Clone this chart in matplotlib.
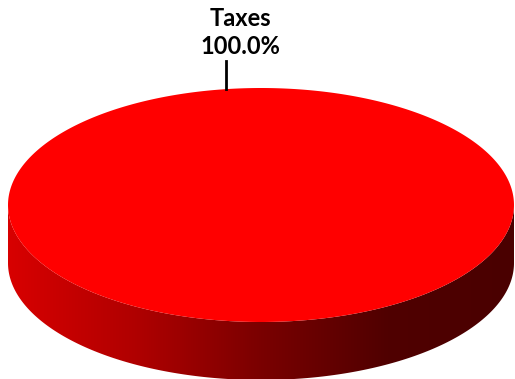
import numpy as np
import matplotlib
matplotlib.use("Agg")
from matplotlib import pyplot as plt
from matplotlib.patches import Polygon
from matplotlib.colors import LinearSegmentedColormap

labels = ["Taxes"]
values = [100.0]
colors = ["#ff0000"]

# ellipse geometry in pixel space
cx, cy = 261, 205
a, b = 253, 117
depth = 58
startangle = -82

fig = plt.figure(figsize=(5.15, 3.79), dpi=100)
ax = fig.add_axes([0, 0, 1, 1])
ax.set_xlim(0, 515)
ax.set_ylim(379, 0)
ax.axis("off")

total = sum(values)
ang0 = startangle
for lab, v, col in zip(labels, values, colors):
    span = 360.0 * v / total
    ang1 = ang0 + span
    # side wall (front half only)
    t = np.radians(np.linspace(180, 360, 200))
    xs = cx + a * np.cos(t)
    ys = cy - b * np.sin(t)
    side = np.concatenate([np.c_[xs, ys], np.c_[xs[::-1], ys[::-1] + depth]])
    poly = Polygon(side, closed=True, facecolor="none", edgecolor="none")
    ax.add_patch(poly)
    cmap = LinearSegmentedColormap.from_list("side", ["#d80000", "#b00000", "#7a0000", "#500000", "#4a0000"])
    grad = np.linspace(0, 1, 256).reshape(1, -1)
    im = ax.imshow(grad, cmap=cmap, extent=[cx - a, cx + a, cy + b + depth, cy - 2], aspect="auto", zorder=1)
    im.set_clip_path(poly)
    # top face
    t = np.radians(np.linspace(ang0, ang1, 400))
    top = np.c_[cx + a * np.cos(t), cy - b * np.sin(t)]
    if span < 360:
        top = np.vstack([[cx, cy], top])
    ax.add_patch(Polygon(top, closed=True, facecolor=col, edgecolor="none", zorder=2))
    # label
    mid = np.radians((ang0 + ang1) / 2)
    lx = cx + a * np.cos(mid)
    ly = cy - b * np.sin(mid)
    ax.plot([lx, lx], [ly, ly - 28], color="black", lw=2, zorder=3)
    ax.text(lx + 15, ly - 31, "%s\n%.1f%%" % (lab, 100 * v / total), ha="center", va="bottom",
            fontsize=17, family="Lato", fontweight="bold", linespacing=1.25)
    ang0 = ang1

fig.savefig("out.png", dpi=100)
